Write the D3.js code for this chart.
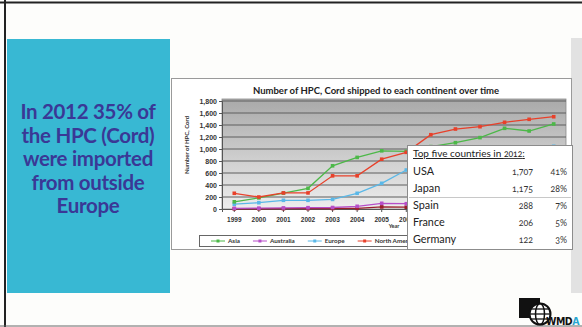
<!DOCTYPE html>
<html><head><meta charset="utf-8">
<script src="https://cdn.jsdelivr.net/npm/d3@7"></script>
<style>
html,body{margin:0;padding:0;background:#fff;}
svg{display:block;font-family:Lato,"Open Sans",sans-serif;}
.num{font-variant-numeric:oldstyle-nums;}
</style></head><body>
<svg id="slide" width="582" height="327"></svg>
<script>
// Cord units shipped per continent, by year
const years = ["1999","2000","2001","2002","2003","2004","2005","2006","2007","2008","2009","2010","2011","2012"];
const asia = [120, 185, 265, 345, 720, 860, 970, 960, 1040, 1105, 1190, 1345, 1300, 1417];
const australia = [12, 14, 18, 22, 25, 45, 95, 88, 90, 95, 100, 105, 110, 115];
const europe = [80, 105, 145, 145, 160, 262, 428, 650, 800, 900, 970, 1010, 1030, 1045];
const northAmerica = [262, 200, 268, 268, 553, 553, 830, 945, 1238, 1333, 1372, 1445, 1495, 1538];
const southAmerica = [3, 4, 5, 6, 8, 10, 35, 30, 32, 35, 38, 40, 42, 45];
const yTicks = [0, 200, 400, 600, 800, 1000, 1200, 1400, 1600, 1800];

// Top five importing countries in 2012
const countries = ["USA", "Japan", "Spain", "France", "Germany"];
const counts = [1707, 1175, 288, 206, 122];
const shares = [41, 28, 7, 5, 3];

const series = [
  {name: "Asia", color: "#4cb848", values: asia},
  {name: "Australia", color: "#b64fc8", values: australia},
  {name: "Europe", color: "#5ab8e8", values: europe},
  {name: "North America", color: "#e8402a", values: northAmerica},
  {name: "South America", color: "#9a1f2b", values: southAmerica}
];

// the country table sits over the right part of the chart
const boxLeft = 407;

const svg = d3.select("#slide");

// slide background and frame
svg.append("rect").attr("width", 582).attr("height", 327).attr("fill", "#fdfdfb");
svg.append("rect").attr("x", 571).attr("y", 38).attr("width", 11).attr("height", 255).attr("fill", "#e2e2e2");
svg.append("line").attr("x1", 0).attr("x2", 582).attr("y1", 2.5).attr("y2", 2.5).attr("stroke", "#222").attr("stroke-width", 2);
svg.append("line").attr("x1", 5).attr("x2", 5).attr("y1", 0).attr("y2", 327).attr("stroke", "#222").attr("stroke-width", 2);
svg.append("line").attr("x1", 0).attr("x2", 582).attr("y1", 326).attr("y2", 326).attr("stroke", "#666").attr("stroke-width", 1);

// headline panel
svg.append("rect").attr("x", 7).attr("y", 39).attr("width", 163).attr("height", 254).attr("fill", "#38b8d3");
const headline = ["In 2012 35% of", "the HPC (Cord)", "were imported", "from outside", "Europe"];
svg.append("g").selectAll("text").data(headline).join("text")
  .attr("x", 88).attr("y", (d, i) => 119 + i * 23.5)
  .attr("text-anchor", "middle").attr("font-size", 20.5).attr("font-weight", 700)
  .attr("fill", "#3a3896").attr("letter-spacing", -0.3)
  .text(d => d);

// chart panel
svg.append("rect").attr("x", 171.5).attr("y", 78.5).attr("width", 400).attr("height", 171)
  .attr("fill", "#fff").attr("stroke", "#9a9a9a");

svg.append("text").attr("x", 376).attr("y", 94).attr("text-anchor", "middle")
  .attr("font-size", 9.5).attr("font-weight", 700).attr("fill", "#222")
  .text("Number of HPC, Cord shipped to each continent over time");

const x = d3.scaleBand().domain(years).range([222, 566]);
const cx = d => x(d) + x.bandwidth() / 2;
const y = d3.scaleLinear().domain([0, 1800]).range([209, 101]);

const defs = svg.append("defs");
const grad = defs.append("linearGradient").attr("id", "plotbg").attr("x1", 0).attr("y1", 0).attr("x2", 0).attr("y2", 1);
grad.append("stop").attr("offset", "0%").attr("stop-color", "#a9a9a9");
grad.append("stop").attr("offset", "100%").attr("stop-color", "#eeeeee");

svg.append("rect").attr("x", 222).attr("y", 99).attr("width", 344).attr("height", 110)
  .attr("fill", "url(#plotbg)").attr("stroke", "#8a8a8a").attr("stroke-width", 0.8);

svg.append("g").selectAll("line").data(yTicks.slice(1)).join("line")
  .attr("x1", 222).attr("x2", 566).attr("y1", d => y(d)).attr("y2", d => y(d))
  .attr("stroke", "#5e5e5e").attr("stroke-width", 1.1);

const yAxis = svg.append("g").attr("transform", "translate(222,0)")
  .call(d3.axisLeft(y).tickValues(yTicks).tickFormat(d3.format(",")).tickSize(3).tickPadding(2));
yAxis.selectAll("text").attr("class", "num").attr("font-size", 7).attr("font-weight", 700).attr("fill", "#333");
yAxis.selectAll("line,path").attr("stroke", "#555");

const xAxis = svg.append("g").attr("transform", "translate(0,209)")
  .call(d3.axisBottom(x).tickSize(3).tickPadding(5));
xAxis.selectAll("text").attr("class", "num").attr("font-size", 6.5).attr("font-weight", 700).attr("fill", "#333");
xAxis.selectAll("line,path").attr("stroke", "#555");
// year labels fully under the table are not shown
xAxis.selectAll(".tick").filter(d => cx(d) - 6 > boxLeft).select("text").remove();

svg.append("text").attr("transform", "translate(189,145) rotate(-90)").attr("text-anchor", "middle")
  .attr("font-size", 6).attr("font-weight", 700).attr("fill", "#333").text("Number of HPC, Cord");
svg.append("text").attr("x", 394).attr("y", 228).attr("text-anchor", "middle")
  .attr("font-size", 5.5).attr("font-weight", 700).attr("fill", "#333").text("Year");

// series lines and markers
const line = d3.line().x((d, i) => cx(years[i])).y(d => y(d));
const drawOrder = [4, 1, 2, 0, 3];
drawOrder.forEach(k => {
  const s = series[k];
  const g = svg.append("g");
  g.append("path").datum(s.values).attr("d", line).attr("fill", "none")
    .attr("stroke", s.color).attr("stroke-width", 1.3);
  g.selectAll("rect").data(s.values).join("rect")
    .attr("x", (d, i) => cx(years[i]) - 1.8).attr("y", d => y(d) - 1.8)
    .attr("width", 3.6).attr("height", 3.6).attr("fill", s.color);
});

// legend
const legend = svg.append("g");
legend.append("rect").attr("x", 199.5).attr("y", 235.5).attr("width", 366).attr("height", 11)
  .attr("fill", "#fff").attr("stroke", "#666");
let lx = 211;
series.forEach(s => {
  if (lx > boxLeft) return;
  legend.append("line").attr("x1", lx).attr("x2", lx + 14).attr("y1", 241).attr("y2", 241)
    .attr("stroke", s.color).attr("stroke-width", 1);
  legend.append("rect").attr("x", lx + 5.5).attr("y", 239.5).attr("width", 3).attr("height", 3).attr("fill", s.color);
  const t = legend.append("text").attr("x", lx + 17).attr("y", 243.3)
    .attr("font-size", 6.3).attr("font-weight", 700).attr("fill", "#333").text(s.name);
  lx += 17 + t.node().getComputedTextLength() + 13;
});

// top five countries box
const box = svg.append("g");
box.append("rect").attr("x", boxLeft + 0.5).attr("y", 145.5).attr("width", 165).attr("height", 104)
  .attr("fill", "#fff").attr("stroke", "#8c8c8c");
box.append("text").attr("x", 413).attr("y", 157).attr("font-size", 10).attr("fill", "#222")
  .attr("text-decoration", "underline")
  .html('Top five countries in <tspan class="num" font-size="8.5">2012</tspan>:');
box.append("line").attr("x1", 409).attr("x2", 571).attr("y1", 197.5).attr("y2", 197.5)
  .attr("stroke", "#c8c8c8");
const rowY = [175, 192, 209, 226, 243];
box.selectAll("text.country").data(countries).join("text").attr("class", "country")
  .attr("x", 413).attr("y", (d, i) => rowY[i]).attr("font-size", 10.8).attr("fill", "#222").text(d => d);
box.selectAll("text.count").data(counts).join("text").attr("class", "count num")
  .attr("x", 533).attr("y", (d, i) => rowY[i]).attr("text-anchor", "end")
  .attr("font-size", 8.8).attr("fill", "#333").text(d => d3.format(",")(d));
box.selectAll("text.share").data(shares).join("text").attr("class", "share num")
  .attr("x", 567).attr("y", (d, i) => rowY[i]).attr("text-anchor", "end")
  .attr("font-size", 8.8).attr("fill", "#333").text(d => d + "%");

// WMDA logo
const logo = svg.append("g");
logo.append("rect").attr("x", 519).attr("y", 298).attr("width", 21).attr("height", 20).attr("fill", "#111");
logo.append("circle").attr("cx", 540).attr("cy", 314).attr("r", 10.5).attr("fill", "#fff").attr("stroke", "#111").attr("stroke-width", 2);
logo.append("ellipse").attr("cx", 540).attr("cy", 314).attr("rx", 4.5).attr("ry", 10.5).attr("fill", "none").attr("stroke", "#111").attr("stroke-width", 1.5);
[-5, 0, 5].forEach(dy => logo.append("line").attr("x1", 530).attr("x2", 550)
  .attr("y1", 314 + dy).attr("y2", 314 + dy).attr("stroke", "#111").attr("stroke-width", 1.3));
const mark = logo.append("text").attr("x", 546).attr("y", 325).attr("font-size", 13).attr("font-weight", 700)
  .attr("font-family", "'Liberation Sans Narrow','DejaVu Sans Condensed',sans-serif")
  .attr("fill", "#111").attr("letter-spacing", -0.5)
  .html('WMD<tspan fill="#2aa6d0">A</tspan>');
// shrink the wordmark until it fits inside the slide edge
let fs = 13;
while (546 + mark.node().getComputedTextLength() > 580 && fs > 6) {
  fs -= 0.5;
  mark.attr("font-size", fs);
}
</script>
</body></html>
